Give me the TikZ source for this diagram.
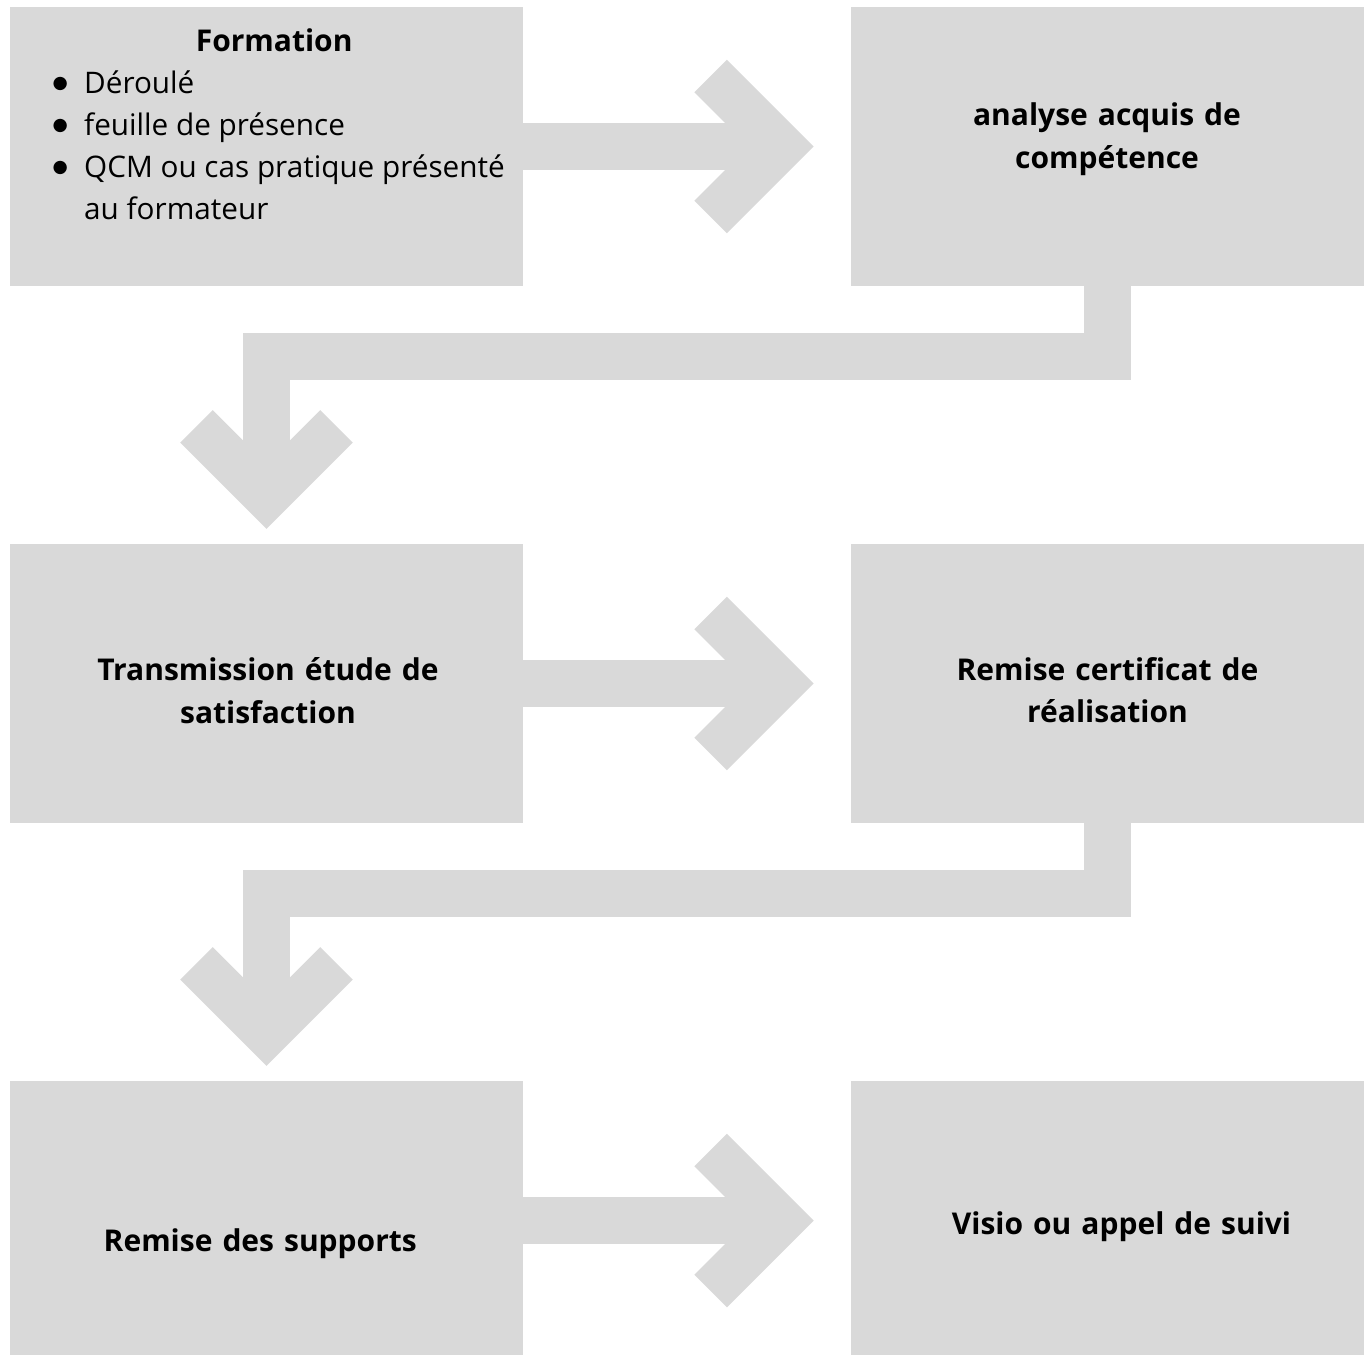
\documentclass[tikz,border=0pt]{standalone}
\usepackage{fontspec}
\setmainfont{Open Sans}
\newfontfamily\symfont{DejaVu Sans}
\usetikzlibrary{calc}
\definecolor{boxgray}{HTML}{D9D9D9}
\newcommand\blt{\hspace*{1pt}\raisebox{5pt}{\symfont\fontsize{17.5}{17.5}\selectfont ●}}
\tikzset{
	box/.style={fill=boxgray,minimum width=513pt,minimum height=279pt,inner sep=0pt},
	boxtxt/.style={text width=480pt,align=center,anchor=base,inner sep=0pt,font=\fontsize{30}{42.5}\selectfont\bfseries},
	flow/.style={draw=boxgray,line width=47pt},
	chev/.style={draw=boxgray,line width=46pt,line join=miter}
}
\begin{document}
\begin{tikzpicture}[x=1pt,y=-1pt]
	\useasboundingbox (0,0) rectangle (1370,1354);
	% boxes
	\node[box] (form) at (266.5,146.5) {};
	\node[box] (anal) at (1107.5,146.5) {};
	\node[box] (trans) at (266.5,683.5) {};
	\node[box] (cert) at (1107.5,683.5) {};
	\node[box] (supp) at (266.5,1220.5) {};
	\node[box] (visio) at (1107.5,1220.5) {};
	% texts
	\node[anchor=base west,inner sep=0pt,font=\fontsize{29.7}{42}\selectfont] (formtxt) at (51.5,51.5) {\begin{tabular}[t]{@{}p{32.5pt}@{}l@{}}
		\multicolumn{2}{@{}c@{}}{\hspace*{-8pt}\fontsize{30}{42}\selectfont\bfseries Formation}\\
		\blt & Déroulé\\
		\blt & feuille de présence\\
		\blt & QCM ou cas pratique présenté\\
		 & au formateur
	\end{tabular}};
	\node[boxtxt] (analtxt) at (1107,125.7) {analyse acquis de\\compétence};
	\node[boxtxt] (transtxt) at (268,680.7) {Transmission étude de\\satisfaction};
	\node[boxtxt] (certtxt) at (1107.5,680) {Remise certificat de\\réalisation};
	\node[boxtxt] (supptxt) at (260.3,1251.7) {Remise des supports};
	\node[boxtxt] (visiotxt) at (1121.5,1234.3) {Visio ou appel de suivi};
	% arrows right
	\draw[flow] (form.east) -- ++(237,0);
	\draw[chev] ($(form.east)+(187.5,-70.5)$) -- ++(70.5,70.5) -- ++(-70.5,70.5);
	\draw[flow] (trans.east) -- ++(237,0);
	\draw[chev] ($(trans.east)+(187.5,-70.5)$) -- ++(70.5,70.5) -- ++(-70.5,70.5);
	\draw[flow] (supp.east) -- ++(237,0);
	\draw[chev] ($(supp.east)+(187.5,-70.5)$) -- ++(70.5,70.5) -- ++(-70.5,70.5);
	% elbows down
	\draw[flow] (anal.south) -- ++(0,70.5) -| ($(trans.north)+(0,-39)$);
	\draw[chev] ($(trans.north)+(-70,-117.5)$) -- ++(70,70) -- ++(70,-70);
	\draw[flow] (cert.south) -- ++(0,70.5) -| ($(supp.north)+(0,-39)$);
	\draw[chev] ($(supp.north)+(-70,-117.5)$) -- ++(70,70) -- ++(70,-70);
\end{tikzpicture}
\end{document}
